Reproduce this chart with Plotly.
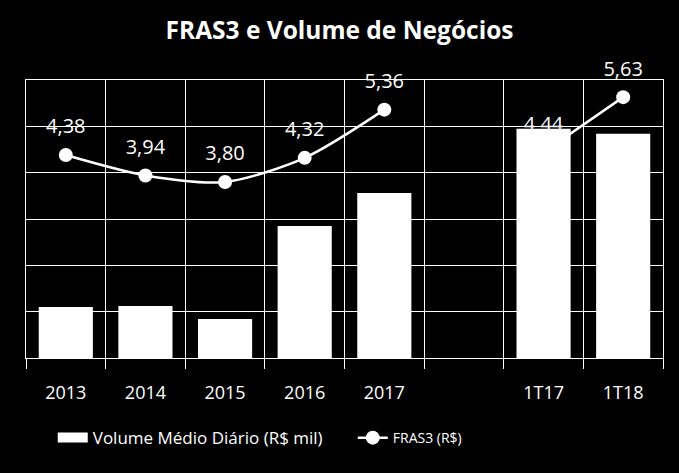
import plotly.graph_objects as go

# Categories (blank slot separates annual data from quarterly data)
categories = ["2013", "2014", "2015", "2016", "2017", " ", "1T17", "1T18"]

# Volume Médio Diário (R$ mil)
volume = [550, 560, 420, 1425, 1780, None, 2475, 2420]

# FRAS3 share price (R$)
fras3 = [4.38, 3.94, 3.80, 4.32, 5.36, None, 4.44, 5.63]
fras3_labels = [f"{v:.2f}".replace(".", ",") if v is not None else "" for v in fras3]

FONT = "Open Sans"

fig = go.Figure()

# Line on the base axis so the bars (overlay axis) are drawn over it
fig.add_trace(
    go.Scatter(
        x=categories,
        y=fras3,
        name="FRAS3 (R$)",
        mode="lines+markers",
        line=dict(color="white", width=2.5, shape="spline", smoothing=0.8),
        marker=dict(color="white", size=14),
        connectgaps=False,
        cliponaxis=False,
        legend="legend2",
        yaxis="y",
    )
)

# value labels (invisible big markers just push the text a bit higher)
fig.add_trace(
    go.Scatter(
        x=categories,
        y=fras3,
        mode="markers+text",
        text=fras3_labels,
        textposition="top center",
        textfont=dict(family=FONT, size=20, color="white"),
        marker=dict(color="rgba(0,0,0,0)", size=25),
        cliponaxis=False,
        showlegend=False,
        hoverinfo="skip",
        yaxis="y",
    )
)

fig.add_trace(
    go.Bar(
        x=categories,
        y=volume,
        name="Volume Médio Diário (R$ mil)",
        marker=dict(color="white", line=dict(width=0)),
        yaxis="y2",
        showlegend=False,
    )
)

# legend entry only: a thick line gives the wide white swatch of the original
fig.add_trace(
    go.Scatter(
        x=[None],
        y=[None],
        mode="lines",
        name="Volume Médio Diário (R$ mil)",
        line=dict(color="white", width=13),
        legend="legend",
        yaxis="y2",
    )
)

fig.update_layout(
    width=679,
    height=473,
    paper_bgcolor="black",
    plot_bgcolor="black",
    margin=dict(l=26, r=16, t=80, b=115, autoexpand=False),
    bargap=0.32,
    showlegend=True,
    title=dict(
        text="<b>FRAS3 e Volume de Negócios</b>",
        x=0.5,
        xanchor="center",
        y=0.935,
        yanchor="middle",
        font=dict(family=FONT, size=24.5, color="white"),
    ),
    xaxis=dict(
        type="category",
        range=[-0.5, len(categories) - 0.5],
        tickson="boundaries",
        showgrid=True,
        gridcolor="white",
        gridwidth=1,
        ticks="outside",
        ticklen=10,
        tickcolor="white",
        showline=True,
        linecolor="white",
        mirror=True,
        tickfont=dict(family=FONT, size=18, color="white"),
        ticklabelstandoff=18,
        automargin=False,
    ),
    yaxis=dict(
        range=[0, 6],
        dtick=1,
        showgrid=True,
        gridcolor="white",
        gridwidth=1,
        showticklabels=False,
        zeroline=False,
        showline=True,
        linecolor="white",
        mirror=True,
        automargin=False,
    ),
    yaxis2=dict(
        range=[0, 3000],
        overlaying="y",
        side="right",
        showgrid=False,
        showticklabels=False,
        zeroline=False,
        automargin=False,
    ),
    legend=dict(
        orientation="h",
        x=0.042,
        xanchor="left",
        y=-0.288,
        yanchor="middle",
        font=dict(family=FONT, size=17, color="white"),
        bgcolor="rgba(0,0,0,0)",
    ),
    legend2=dict(
        orientation="h",
        x=0.513,
        xanchor="left",
        y=-0.288,
        yanchor="middle",
        font=dict(family=FONT, size=14, color="white"),
        bgcolor="rgba(0,0,0,0)",
    ),
)

fig.write_html(
    "out.html",
    config={"displayModeBar": False},
    post_script="document.body.style.margin='0';",
)
